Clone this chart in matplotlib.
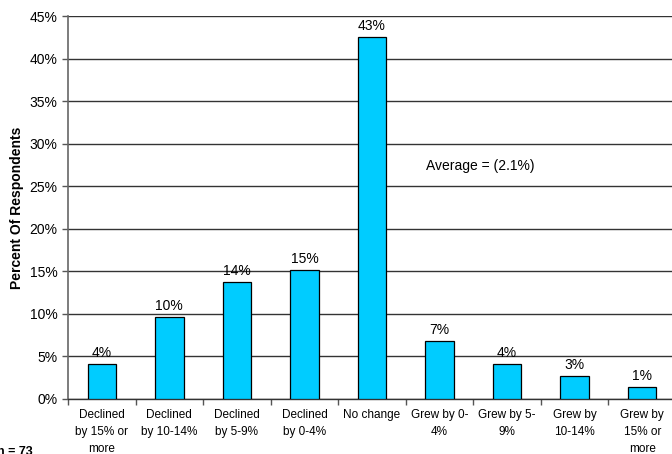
import matplotlib
matplotlib.use("Agg")
import matplotlib.pyplot as plt
from matplotlib.ticker import FuncFormatter

categories = ["Declined\nby 15% or\nmore", "Declined\nby 10-14%", "Declined\nby 5-9%",
              "Declined\nby 0-4%", "No change", "Grew by 0-\n4%", "Grew by 5-\n9%",
              "Grew by\n10-14%", "Grew by\n15% or\nmore"]
values = [4.1, 9.6, 13.7, 15.1, 42.5, 6.8, 4.1, 2.7, 1.4]
labels = ["4%", "10%", "14%", "15%", "43%", "7%", "4%", "3%", "1%"]
yticks = list(range(0, 50, 5))

plt.rcParams['font.family'] = ['Liberation Sans', 'DejaVu Sans']

fig = plt.figure(figsize=(6.72, 4.54), dpi=100)
ax = fig.add_axes([68/672, 55/454, 608/672, 383/454])

x = list(range(len(values)))
ax.bar(x, values, width=0.42, color="#00CCFF", edgecolor="black", linewidth=0.9, zorder=3)
for xi, v, lab in zip(x, values, labels):
    ax.text(xi, v + 0.5, lab, ha="center", va="bottom", fontsize=10, zorder=4)

ax.set_xlim(-0.5, len(values) - 0.5)
ax.set_ylim(0, 45)
ax.set_yticks(yticks)
ax.yaxis.set_major_formatter(FuncFormatter(lambda v, p: f"{int(v)}%"))
ax.tick_params(axis="y", labelsize=10, length=4, color="#555555", width=1)
ax.grid(axis="y", color="#333333", linewidth=1, zorder=0)
ax.set_axisbelow(True)

ax.set_xticks(x)
ax.set_xticklabels(categories, fontsize=8.5, linespacing=1.55)
ax.tick_params(axis="x", length=0, pad=7)
ax.set_xticks([i - 0.5 for i in range(len(values) + 1)], minor=True)
ax.tick_params(axis="x", which="minor", length=4, color="#555555", width=1)

for s in ["top", "right"]:
    ax.spines[s].set_visible(False)
ax.spines["left"].set_color("#666666")
ax.spines["left"].set_linewidth(1.2)
ax.spines["bottom"].set_color("#333333")
ax.spines["bottom"].set_linewidth(1)

ax.set_ylabel("Percent Of Respondents", fontsize=10, fontweight="bold", labelpad=4)

ax.text(5.6, 27.4, "Average = (2.1%)", ha="center", va="center", fontsize=10)

fig.text(-0.004, 0.018, "n = 73", ha="left", va="top", fontsize=9, fontweight="bold")

fig.savefig("out.png", dpi=100)
